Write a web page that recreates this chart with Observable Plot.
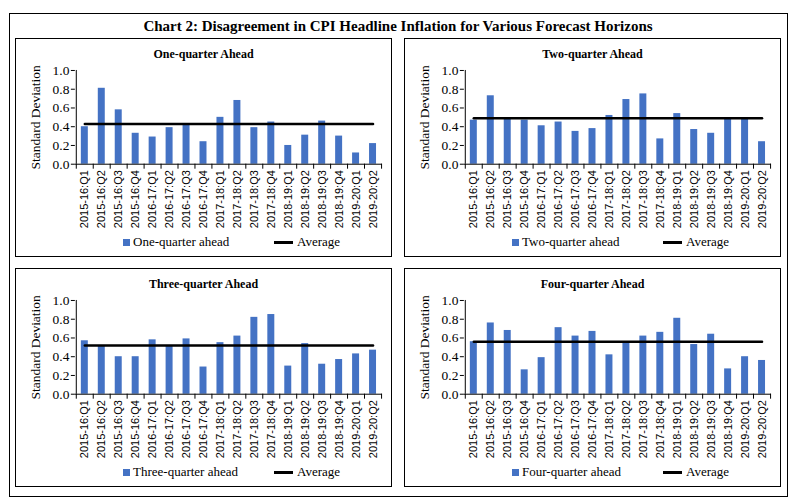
<!DOCTYPE html>
<html><head><meta charset="utf-8">
<script src="https://cdn.jsdelivr.net/npm/d3@7"></script>
<script src="https://cdn.jsdelivr.net/npm/@observablehq/plot@0.6"></script>
<style>
body{margin:0;background:#fff;}
#root{position:relative;width:796px;height:502px;font-family:"Liberation Serif",serif;color:#000;}
#frame{position:absolute;left:9px;top:13px;width:779px;height:484px;border:1px solid #000;box-sizing:border-box;}
#title{position:absolute;left:0;top:17px;width:796px;text-align:center;font-weight:bold;font-size:15px;line-height:18px;}
.panel{position:absolute;width:377px;height:219px;border:1px solid #000;box-sizing:border-box;background:#fff;}
.ptitle{position:absolute;left:0;top:8px;width:100%;text-align:center;font-weight:bold;font-size:12px;line-height:14px;}
.plot{position:absolute;left:-1px;top:21px;}
.plot svg g[aria-label="y-axis tick label"] text{font-size:13.5px !important;}
.plot svg g[aria-label="y-axis label"] text{font-size:13.5px !important;}
.legend{position:absolute;top:195px;left:0;width:100%;height:16px;font-size:13px;line-height:16px;}
.sw{position:absolute;top:5px;width:7px;height:7px;background:#4472c4;}
.ln{position:absolute;top:7px;width:19px;height:2.5px;background:#000;}
.lt{position:absolute;top:0;white-space:nowrap;}
</style>
</head><body>
<div id="root">
  <div id="frame"></div>
  <div id="title">Chart 2: Disagreement in CPI Headline Inflation for Various Forecast Horizons</div>
</div>
<script>
const cats = ["2015-16:Q1","2015-16:Q2","2015-16:Q3","2015-16:Q4","2016-17:Q1","2016-17:Q2","2016-17:Q3","2016-17:Q4","2017-18:Q1","2017-18:Q2","2017-18:Q3","2017-18:Q4","2018-19:Q1","2018-19:Q2","2018-19:Q3","2018-19:Q4","2019-20:Q1","2019-20:Q2"];
const oneQuarter   = [0.40,0.81,0.58,0.33,0.29,0.39,0.42,0.24,0.50,0.68,0.39,0.45,0.20,0.31,0.46,0.30,0.12,0.22];
const twoQuarter   = [0.47,0.73,0.49,0.47,0.41,0.45,0.35,0.38,0.52,0.69,0.75,0.27,0.54,0.37,0.33,0.49,0.49,0.24];
const threeQuarter = [0.57,0.52,0.40,0.40,0.58,0.52,0.59,0.29,0.55,0.62,0.82,0.85,0.30,0.54,0.32,0.37,0.43,0.47];
const fourQuarter  = [0.56,0.76,0.68,0.26,0.39,0.71,0.62,0.67,0.42,0.56,0.62,0.66,0.81,0.53,0.64,0.27,0.40,0.36];
const averages = [0.43, 0.49, 0.52, 0.56];
const panelTitles = ["One-quarter Ahead","Two-quarter Ahead","Three-quarter Ahead","Four-quarter Ahead"];
const seriesNames = ["One-quarter ahead","Two-quarter ahead","Three-quarter ahead","Four-quarter ahead"];
const yTicks = [0,0.2,0.4,0.6,0.8,1.0];
const yLabel = "Standard Deviation";

function makePlot(values, avg) {
  const W = 377, H = 172, mL = 60, mR = 9, mT = 10, mB = 68;
  const step = (W - mL - mR) / cats.length;
  const data = cats.map((c, i) => ({cat: c, v: values[i], avg}));
  return Plot.plot({
    width: W, height: H, marginLeft: mL, marginRight: mR, marginTop: mT, marginBottom: mB,
    style: {fontFamily: '"Liberation Serif", serif', fontSize: "13px", color: "#000", background: "transparent", overflow: "visible"},
    x: {domain: cats, paddingInner: 0.58, paddingOuter: 0.29, axis: null},
    y: {domain: [0, 1], axis: null},
    marks: [
      Plot.barY(data, {x: "cat", y: "v", fill: "#4472c4"}),
      Plot.ruleY([0], {stroke: "#000", strokeWidth: 1}),
      Plot.ruleX([cats[0]], {x: d => d, dx: -step / 2, y1: 0, y2: 1, stroke: "#000"}),
      Plot.axisY({ticks: yTicks, tickFormat: d3.format(".1f"), tickSize: 4, tickPadding: 2, label: yLabel, labelAnchor: "center", labelOffset: 45, labelArrow: false, fontSize: 13.5}),
      Plot.axisX({tickSize: 0, tickRotate: -90, tickPadding: 6, label: null, fontFamily: '"Liberation Sans", sans-serif', fontSize: 11}),
      Plot.axisX({tickSize: 5, tickFormat: () => "", dx: -step / 2, label: null}),
      Plot.axisX({ticks: [cats[cats.length - 1]], tickSize: 5, tickFormat: () => "", dx: step / 2, label: null}),
      Plot.lineY(data, {x: "cat", y: "avg", stroke: "#000", strokeWidth: 2.5})
    ]
  });
}

const series = [oneQuarter, twoQuarter, threeQuarter, fourQuarter];
const lefts = [15, 404, 15, 404];
const tops = [38, 38, 268, 268];
const root = document.getElementById("root");
series.forEach((vals, i) => {
  const p = document.createElement("div");
  p.className = "panel";
  p.style.left = lefts[i] + "px";
  p.style.top = tops[i] + "px";
  const t = document.createElement("div");
  t.className = "ptitle";
  t.textContent = panelTitles[i];
  p.appendChild(t);
  const holder = document.createElement("div");
  holder.className = "plot";
  holder.appendChild(makePlot(vals, averages[i]));
  p.appendChild(holder);
  const lg = document.createElement("div");
  lg.className = "legend";
  lg.innerHTML = `<span class="sw" style="left:107px"></span><span class="lt" style="left:117px">${seriesNames[i]}</span>` +
                 `<span class="ln" style="left:258px"></span><span class="lt" style="left:281px">Average</span>`;
  p.appendChild(lg);
  root.appendChild(p);
});
</script>
</body></html>
